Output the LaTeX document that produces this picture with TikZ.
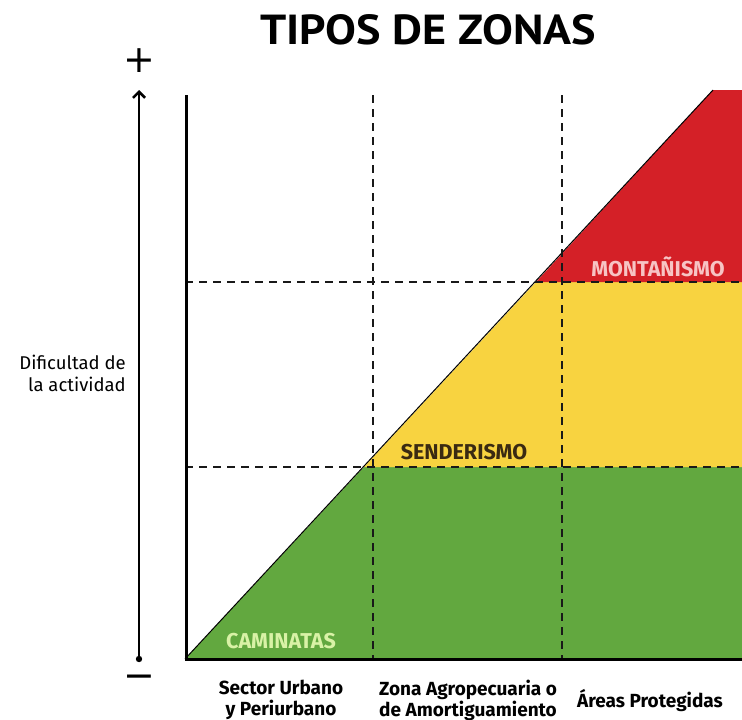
\documentclass[tikz,border=0pt]{standalone}
\usepackage{fontspec}
\setmainfont{Fira Sans}
\newfontfamily\titlef{PT Sans}[FakeStretch=1.1]
\newfontfamily\symf{DejaVu Sans}
\usetikzlibrary{arrows.meta}
\definecolor{zgreen}{HTML}{62A83F}
\definecolor{zyellow}{HTML}{F8D340}
\definecolor{zred}{HTML}{D42027}
\definecolor{tgreen}{HTML}{D9F2A6}
\definecolor{tbrown}{HTML}{3A2A12}
\definecolor{tpink}{HTML}{F7C4C4}
\tikzset{
  gridline/.style={dash pattern=on 8pt off 6pt, line width=1.1pt, black!90},
  zonelabel/.style={font=\fontsize{21.5}{24}\selectfont\bfseries, inner sep=0pt},
  axlabel/.style={font=\fontsize{18.5}{22}\selectfont, inner sep=0pt, align=center},
  catlabel/.style={font=\fontsize{19}{21}\selectfont\bfseries, inner sep=0pt, align=center},
  signlabel/.style={font=\symf\fontsize{38}{38}\selectfont, inner sep=0pt},
}
\begin{document}
\begin{tikzpicture}[x=1pt,y=-1pt]
\useasboundingbox (0,0) rectangle (742,720);
% zones
\fill[zgreen] (185,659) -- (364,467) -- (742,467) -- (742,659) -- cycle;
\fill[zyellow] (364,467) -- (536,282) -- (742,282) -- (742,467) -- cycle;
\fill[zred] (536,282) -- (713,90) -- (742,90) -- (742,282) -- cycle;
\draw[line width=1pt] (185,659) -- (713,90);
% grid
\draw[gridline] (373,95) -- (373,659);
\draw[gridline] (562,95) -- (562,659);
\draw[gridline] (185,282) -- (742,282);
\draw[gridline] (185,467) -- (742,467);
% axes
\draw[line width=3pt] (186,95) -- (186,659) -- (742,659);
% left arrow
\coordinate (abot) at (139,659);
\coordinate (atop) at (139,90);
\fill (abot) circle (3.2pt);
\draw[line width=2.6pt, -{Straight Barb[length=6pt,width=12pt]}] (abot) -- (atop);
\node[signlabel] (plus) at (139,61) {+};
\node[signlabel] (minus) at (139,682) {−};
% title
\node[font=\titlef\fontsize{42}{42}\selectfont\bfseries, inner sep=0pt] (title) at (428,30) {TIPOS DE ZONAS};
% zone labels
\node[zonelabel, text=tgreen] (cam) at (281,641) {CAMINATAS};
\node[zonelabel, text=tbrown] (sen) at (464,452) {SENDERISMO};
\node[zonelabel, text=tpink] (mon) at (658,267) {MONTAÑISMO};
% axis labels
\node[axlabel, align=right, anchor=east] (dif) at (126,373) {Dificultad de\\la actividad};
\node[catlabel] (s1) at (281,700) {Sector Urbano\\y Periurbano};
\node[catlabel] (s2) at (468,700) {Zona Agropecuaria o\\de Amortiguamiento};
\node[catlabel] (s3) at (650,701) {Áreas Protegidas};
\end{tikzpicture}
\end{document}
